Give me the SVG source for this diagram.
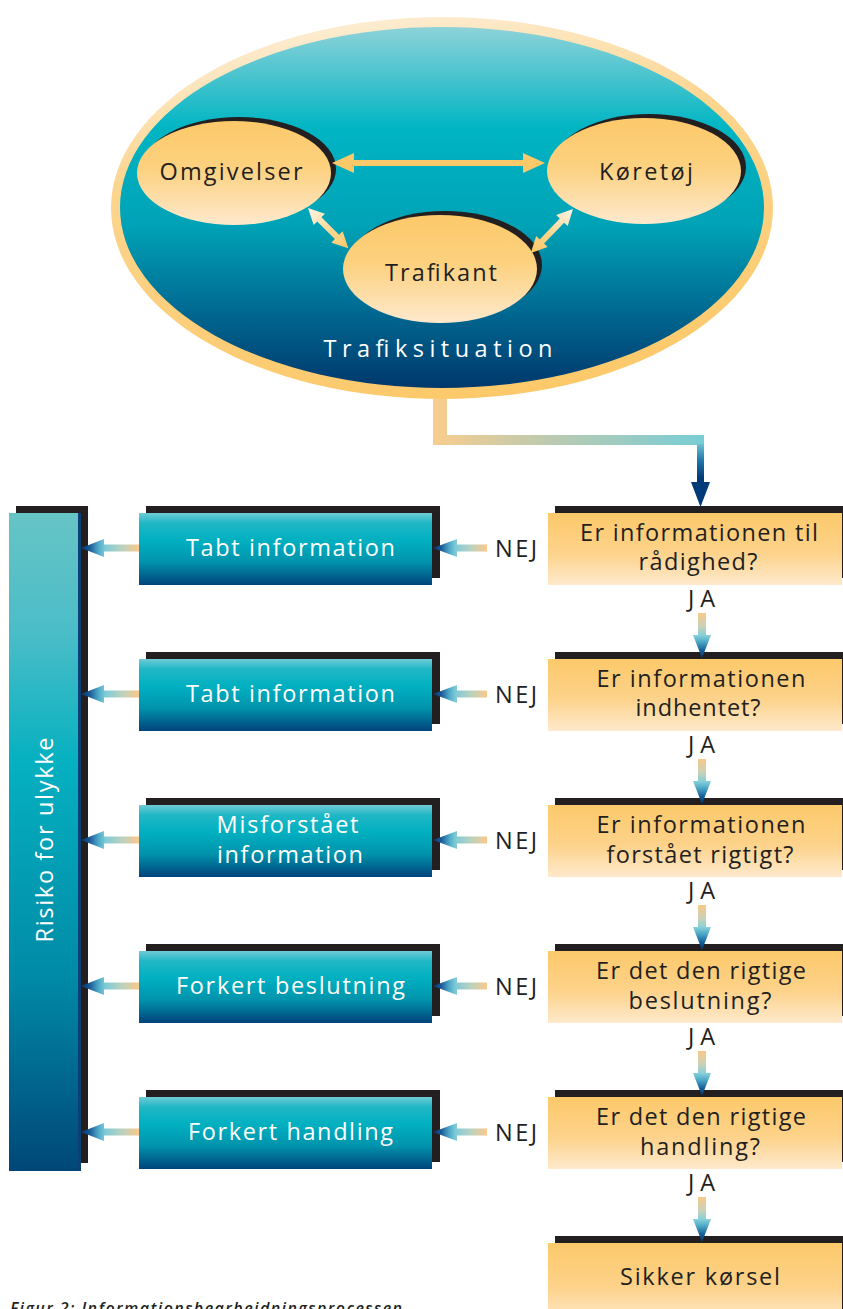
<svg xmlns="http://www.w3.org/2000/svg" width="843" height="1309" viewBox="0 0 843 1309">
<style>
.t{font-family:"Open Sans","Noto Sans","DejaVu Sans",sans-serif;font-size:23.5px;font-weight:500;fill:#231f20;text-anchor:middle}
.w{fill:#ffffff}
.sh{fill:#231f20}
.yb{fill:url(#yBox)}
.tb{fill:url(#tBox)}
.al{fill:url(#arrL)}
.ad{fill:url(#arrD)}
</style>
<defs>
<linearGradient id="ring" x1="0.3" y1="0" x2="0.55" y2="1">
<stop offset="0" stop-color="#fdeed6"/><stop offset="0.35" stop-color="#fcd58f"/><stop offset="1" stop-color="#fcc96a"/>
</linearGradient>
<linearGradient id="sea" x1="0" y1="0" x2="0" y2="1">
<stop offset="0" stop-color="#8ed2d9"/><stop offset="0.28" stop-color="#00b5c3"/><stop offset="0.55" stop-color="#00a2b6"/><stop offset="0.8" stop-color="#00668f"/><stop offset="1" stop-color="#00386c"/>
</linearGradient>
<linearGradient id="egg" x1="0" y1="0" x2="0" y2="1">
<stop offset="0" stop-color="#fcc96a"/><stop offset="0.45" stop-color="#fcd17f"/><stop offset="1" stop-color="#fee9cd"/>
</linearGradient>
<linearGradient id="yBox" x1="0" y1="0" x2="0" y2="1">
<stop offset="0" stop-color="#fcc96a"/><stop offset="0.55" stop-color="#fdd28a"/><stop offset="1" stop-color="#fee9cc"/>
</linearGradient>
<linearGradient id="tBox" x1="0" y1="0" x2="0" y2="1">
<stop offset="0" stop-color="#6fcbd6"/><stop offset="0.14" stop-color="#20b7c6"/><stop offset="0.38" stop-color="#00b0c0"/><stop offset="0.68" stop-color="#0093ac"/><stop offset="1" stop-color="#00437a"/>
</linearGradient>
<linearGradient id="bar" x1="0" y1="0" x2="0" y2="1">
<stop offset="0" stop-color="#66c4c5"/><stop offset="0.18" stop-color="#4bbdc8"/><stop offset="0.38" stop-color="#05b0c0"/><stop offset="0.7" stop-color="#008ba7"/><stop offset="1" stop-color="#004777"/>
</linearGradient>
<linearGradient id="arrL" x1="0" y1="0" x2="1" y2="0">
<stop offset="0" stop-color="#003a78"/><stop offset="0.14" stop-color="#175594"/><stop offset="0.3" stop-color="#4ea8c8"/><stop offset="0.42" stop-color="#7fcbd6"/><stop offset="0.7" stop-color="#b9d2c0"/><stop offset="1" stop-color="#fbc98a"/>
</linearGradient>
<linearGradient id="arrD" x1="0" y1="0" x2="0" y2="1">
<stop offset="0" stop-color="#f9c88a"/><stop offset="0.3" stop-color="#c9d2b8"/><stop offset="0.5" stop-color="#85d0d8"/><stop offset="0.65" stop-color="#4aa6c6"/><stop offset="0.85" stop-color="#0f5894"/><stop offset="1" stop-color="#003a78"/>
</linearGradient>
<linearGradient id="conH" gradientUnits="userSpaceOnUse" x1="433" y1="0" x2="704" y2="0">
<stop offset="0" stop-color="#f8cd8e"/><stop offset="0.4" stop-color="#bfcaae"/><stop offset="1" stop-color="#78cdd6"/>
</linearGradient>
<linearGradient id="conV" gradientUnits="userSpaceOnUse" x1="0" y1="442" x2="0" y2="478">
<stop offset="0" stop-color="#78cdd6"/><stop offset="0.5" stop-color="#2378ab"/><stop offset="1" stop-color="#003a78"/>
</linearGradient>
<linearGradient id="dia" gradientUnits="userSpaceOnUse" x1="0" y1="0" x2="58" y2="0">
<stop offset="0" stop-color="#fdf4e8"/><stop offset="0.6" stop-color="#fcd58c"/><stop offset="1" stop-color="#fcc96a"/>
</linearGradient>
</defs>

<rect x="0" y="0" width="843" height="1309" fill="#ffffff"/>

<g id="trafiksituation">
<ellipse cx="442" cy="208" rx="331" ry="191" fill="url(#ring)"/>
<ellipse cx="442" cy="207.5" rx="322" ry="180.5" fill="url(#sea)"/>
<text class="t w" x="438" y="357" font-size="30" textLength="229" lengthAdjust="spacing">Trafiksituation</text>
</g>

<g id="node-omgivelser">
<ellipse cx="239" cy="169" rx="97" ry="52" class="sh"/>
<ellipse cx="234" cy="173" rx="97" ry="52" fill="url(#egg)"/>
<text class="t" x="231" y="180" textLength="143" lengthAdjust="spacing">Omgivelser</text>
</g>
<g id="node-koeretoej">
<ellipse cx="649" cy="167" rx="97" ry="53" class="sh"/>
<ellipse cx="644" cy="171" rx="97" ry="53" fill="url(#egg)"/>
<text class="t" x="646" y="180" textLength="94" lengthAdjust="spacing">Køretøj</text>
</g>
<g id="node-trafikant">
<ellipse cx="445" cy="265" rx="97" ry="54" class="sh"/>
<ellipse cx="440" cy="269" rx="97" ry="54" fill="url(#egg)"/>
<text class="t" x="441" y="281" textLength="112" lengthAdjust="spacing">Trafikant</text>
</g>

<g id="risiko">
<rect x="16" y="506" width="72" height="657" class="sh"/>
<rect x="9" y="513" width="70" height="658" fill="url(#bar)"/>
<rect x="78" y="513" width="3" height="658" fill="#0b3f76"/>
<text class="t w" transform="translate(53,840) rotate(-90)" textLength="205" lengthAdjust="spacing">Risiko for ulykke</text>
</g>

<g id="q1">
<rect x="555" y="506" width="294" height="72" class="sh"/>
<rect x="548" y="513" width="294" height="72" class="yb"/>
<text class="t" x="699" y="541" textLength="238" lengthAdjust="spacing">Er informationen til</text>
<text class="t" x="698" y="570" textLength="119" lengthAdjust="spacing">rådighed?</text>
</g>
<g id="q2">
<rect x="555" y="652" width="294" height="72" class="sh"/>
<rect x="548" y="659" width="294" height="72" class="yb"/>
<text class="t" x="701" y="687" textLength="209" lengthAdjust="spacing">Er informationen</text>
<text class="t" x="698" y="716" textLength="125" lengthAdjust="spacing">indhentet?</text>
</g>
<g id="q3">
<rect x="555" y="798" width="294" height="72" class="sh"/>
<rect x="548" y="805" width="294" height="72" class="yb"/>
<text class="t" x="701" y="833" textLength="209" lengthAdjust="spacing">Er informationen</text>
<text class="t" x="700" y="863" textLength="187" lengthAdjust="spacing">forstået rigtigt?</text>
</g>
<g id="q4">
<rect x="555" y="944" width="294" height="72" class="sh"/>
<rect x="548" y="951" width="294" height="72" class="yb"/>
<text class="t" x="701" y="979" textLength="210" lengthAdjust="spacing">Er det den rigtige</text>
<text class="t" x="700" y="1009" textLength="143" lengthAdjust="spacing">beslutning?</text>
</g>
<g id="q5">
<rect x="555" y="1090" width="294" height="72" class="sh"/>
<rect x="548" y="1097" width="294" height="72" class="yb"/>
<text class="t" x="701" y="1125" textLength="210" lengthAdjust="spacing">Er det den rigtige</text>
<text class="t" x="700" y="1155" textLength="120" lengthAdjust="spacing">handling?</text>
</g>
<g id="safe">
<rect x="555" y="1236" width="294" height="80" class="sh"/>
<rect x="548" y="1243" width="294" height="80" class="yb"/>
<text class="t" x="700" y="1285" textLength="160" lengthAdjust="spacing">Sikker kørsel</text>
</g>

<g id="e1">
<rect x="146" y="506" width="294" height="72" class="sh"/>
<rect x="139" y="513" width="293" height="72" class="tb"/>
<text class="t w" x="290.5" y="556" textLength="209" lengthAdjust="spacing">Tabt information</text>
</g>
<g id="e2">
<rect x="146" y="652" width="294" height="72" class="sh"/>
<rect x="139" y="659" width="293" height="72" class="tb"/>
<text class="t w" x="290.5" y="702" textLength="209" lengthAdjust="spacing">Tabt information</text>
</g>
<g id="e3">
<rect x="146" y="798" width="294" height="72" class="sh"/>
<rect x="139" y="805" width="293" height="72" class="tb"/>
<text class="t w" x="287.5" y="833" textLength="142" lengthAdjust="spacing">Misforstået</text>
<text class="t w" x="290" y="863" textLength="146" lengthAdjust="spacing">information</text>
</g>
<g id="e4">
<rect x="146" y="944" width="294" height="72" class="sh"/>
<rect x="139" y="951" width="293" height="72" class="tb"/>
<text class="t w" x="290.5" y="994" textLength="229" lengthAdjust="spacing">Forkert beslutning</text>
</g>
<g id="e5">
<rect x="146" y="1090" width="294" height="72" class="sh"/>
<rect x="139" y="1097" width="293" height="72" class="tb"/>
<text class="t w" x="290.5" y="1140" textLength="205" lengthAdjust="spacing">Forkert handling</text>
</g>

<g id="connectors">
<path d="M433,399 L447,399 L447,435 L704,435 L704,445 L433,445 Z" fill="url(#conH)"/>
<path d="M697,444 L704,444 L704,482 L710,482 L700.5,507 L691,482 L697,482 Z" fill="url(#conV)"/>
<polygon points="332,163 354,153 354,160 523,160 523,153 545,163 523,173 523,166 354,166 354,173" fill="#fcc96a"/>
<g transform="translate(308,208) rotate(45)"><polygon points="0,0 16,-8 16,-3 41,-3 41,-8 57,0 41,8 41,3 16,3 16,8" fill="url(#dia)"/></g>
<g transform="translate(573,209) rotate(133.7)"><polygon points="0,0 16,-8 16,-3 45,-3 45,-8 61,0 45,8 45,3 16,3 16,8" fill="url(#dia)"/></g>
<g transform="translate(0,513)">
<polygon class="al" points="81,35 104,26 104,31.5 139,31.5 139,38.5 104,38.5 104,44"/>
<polygon class="al" points="433,35 457,26 457,31.5 487,31.5 487,38.5 457,38.5 457,44"/>
<polygon class="ad" points="698,100 706,100 706,122 711,122 702,145 693,122 698,122"/>
</g>
<g transform="translate(0,659)">
<polygon class="al" points="81,35 104,26 104,31.5 139,31.5 139,38.5 104,38.5 104,44"/>
<polygon class="al" points="433,35 457,26 457,31.5 487,31.5 487,38.5 457,38.5 457,44"/>
<polygon class="ad" points="698,100 706,100 706,122 711,122 702,145 693,122 698,122"/>
</g>
<g transform="translate(0,805)">
<polygon class="al" points="81,35 104,26 104,31.5 139,31.5 139,38.5 104,38.5 104,44"/>
<polygon class="al" points="433,35 457,26 457,31.5 487,31.5 487,38.5 457,38.5 457,44"/>
<polygon class="ad" points="698,100 706,100 706,122 711,122 702,145 693,122 698,122"/>
</g>
<g transform="translate(0,951)">
<polygon class="al" points="81,35 104,26 104,31.5 139,31.5 139,38.5 104,38.5 104,44"/>
<polygon class="al" points="433,35 457,26 457,31.5 487,31.5 487,38.5 457,38.5 457,44"/>
<polygon class="ad" points="698,100 706,100 706,122 711,122 702,145 693,122 698,122"/>
</g>
<g transform="translate(0,1097)">
<polygon class="al" points="81,35 104,26 104,31.5 139,31.5 139,38.5 104,38.5 104,44"/>
<polygon class="al" points="433,35 457,26 457,31.5 487,31.5 487,38.5 457,38.5 457,44"/>
<polygon class="ad" points="698,100 706,100 706,122 711,122 702,145 693,122 698,122"/>
</g>
</g>

<g id="labels">
<text class="t" x="516" y="557" textLength="42" lengthAdjust="spacing">NEJ</text>
<text class="t" x="516" y="703" textLength="42" lengthAdjust="spacing">NEJ</text>
<text class="t" x="516" y="849" textLength="42" lengthAdjust="spacing">NEJ</text>
<text class="t" x="516" y="995" textLength="42" lengthAdjust="spacing">NEJ</text>
<text class="t" x="516" y="1141" textLength="42" lengthAdjust="spacing">NEJ</text>
<text class="t" x="701.5" y="607" textLength="27" lengthAdjust="spacing">JA</text>
<text class="t" x="701.5" y="753" textLength="27" lengthAdjust="spacing">JA</text>
<text class="t" x="701.5" y="899" textLength="27" lengthAdjust="spacing">JA</text>
<text class="t" x="701.5" y="1045" textLength="27" lengthAdjust="spacing">JA</text>
<text class="t" x="701.5" y="1191" textLength="27" lengthAdjust="spacing">JA</text>
</g>

<text x="10" y="1314" font-family="Open Sans, Noto Sans, sans-serif" font-size="16" font-style="italic" font-weight="600" fill="#231f20" textLength="392" lengthAdjust="spacing">Figur 2: Informationsbearbejdningsprocessen</text>
</svg>
